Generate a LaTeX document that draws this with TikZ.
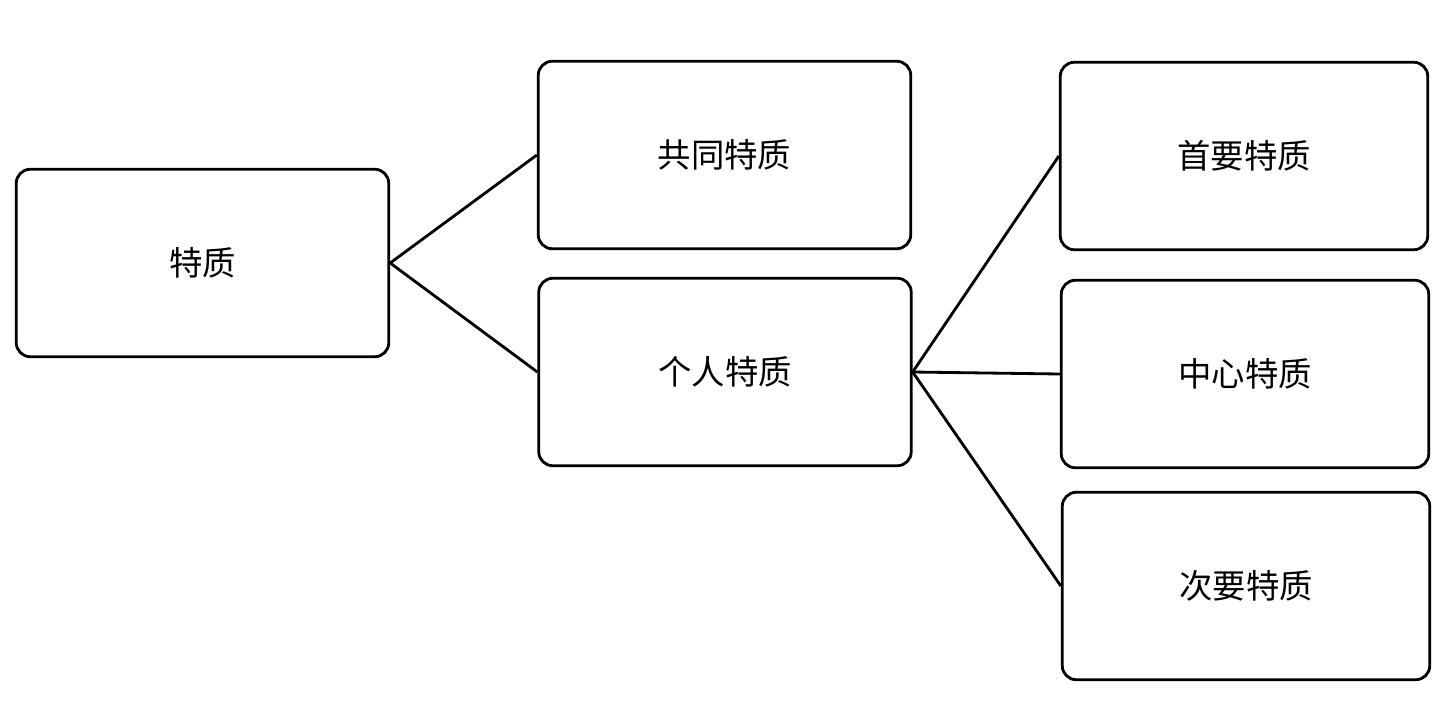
\documentclass[tikz,border=0pt]{standalone}
\usepackage{fontspec}
\setmainfont{Noto Sans CJK SC}
\usetikzlibrary{positioning}

\begin{document}
\begin{tikzpicture}[
  line width=1.6pt,
  trait/.style={rectangle,rounded corners=8pt,draw,align=center,minimum width=7.45cm,minimum height=3.75cm,font=\fontsize{19}{22}\selectfont}
]
\useasboundingbox (0,0) rectangle (29.08,-14);
\node[trait] (root) at (4.05,-5.26) {特质};
\node[trait] (common) at (14.49,-3.1) {共同特质};
\node[trait] (personal) at (14.5,-7.44) {个人特质};
\node[trait,minimum width=7.35cm] (cardinal) at (24.88,-3.12) {首要特质};
\node[trait,minimum width=7.35cm] (central) at (24.9,-7.48) {中心特质};
\node[trait,minimum width=7.35cm] (secondary) at (24.92,-11.72) {次要特质};

% branches
\draw (root.east) -- (common.west);
\draw (root.east) -- (personal.west);
\draw (personal.east) -- (cardinal.west);
\draw (personal.east) -- (central.west);
\draw (personal.east) -- (secondary.west);
\end{tikzpicture}
\end{document}
